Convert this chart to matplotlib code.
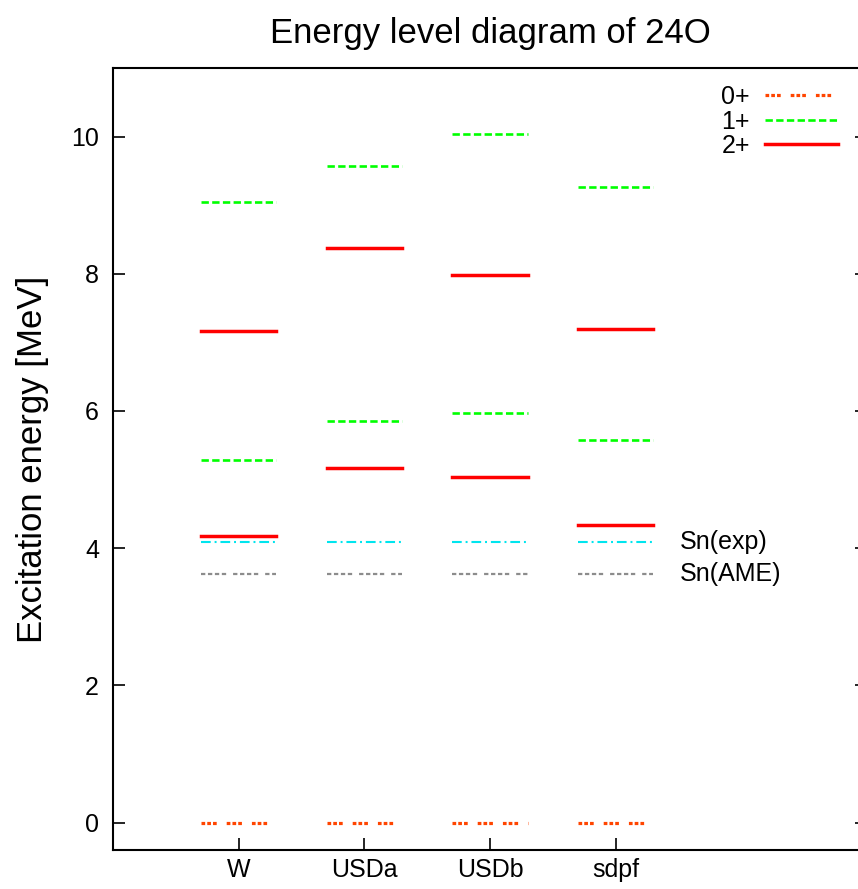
import numpy as np
import matplotlib
matplotlib.use('Agg')
import matplotlib.pyplot as plt

plt.rcParams['font.family'] = ['Liberation Sans', 'DejaVu Sans']
plt.rcParams['lines.scale_dashes'] = False

# data (MeV)
models = ['W', 'USDa', 'USDb', 'sdpf']
e_0plus = [0.0, 0.0, 0.0, 0.0]
e_1plus = [[5.29, 9.05], [5.86, 9.57], [5.97, 10.04], [5.58, 9.27]]
e_2plus = [[4.18, 7.17], [5.17, 8.37], [5.04, 7.98], [4.34, 7.20]]
sn_exp = 4.09
sn_ame = 3.62
sn_labels = ['Sn(exp)', 'Sn(AME)']

half = 0.3  # half width of a level bar

style_0 = dict(color='#ff4500', lw=2.3, ls=(0, (2.65, 1.5, 2.65, 1.5, 2.65, 7.2)))
style_1 = dict(color='#00ff00', lw=1.9, ls=(0, (5.3, 2.4)))
style_2 = dict(color='#ff0000', lw=2.5, ls='-')
style_exp = dict(color='#00e5ee', lw=1.5, ls=(0, (7.0, 2.8, 1.4, 2.8)))
style_ame = dict(color='#8c8c8c', lw=1.6, ls=(0, (3.1, 1.9, 3.1, 1.9, 3.1, 1.9, 3.1, 5.0)))

fig = plt.figure(figsize=(8.58, 8.89), dpi=100)
ax = fig.add_axes([113/858, 39/889, 754/858, 782/889])

for i, name in enumerate(models):
    x = i + 1
    xs = [x - half, x + half]
    ax.plot(xs, [e_0plus[i]]*2, label='0+' if i == 0 else None, **style_0)
    for k, e in enumerate(e_1plus[i]):
        ax.plot(xs, [e, e], label='1+' if (i == 0 and k == 0) else None, **style_1)
    for k, e in enumerate(e_2plus[i]):
        ax.plot(xs, [e, e], label='2+' if (i == 0 and k == 0) else None, **style_2)
    ax.plot(xs, [sn_exp]*2, **style_exp)
    ax.plot(xs, [sn_ame]*2, **style_ame)

ax.text(4.51, sn_exp, sn_labels[0], fontsize=18, va='center', ha='left')
ax.text(4.51, sn_ame, sn_labels[1], fontsize=18, va='center', ha='left')

ax.set_xlim(0, 6)
ax.set_ylim(-0.4, 11)
ax.set_xticks(range(1, len(models) + 1))
ax.set_xticklabels(models)
ax.set_yticks(np.arange(0, 11, 2))

ax.tick_params(axis='both', direction='in', length=8.6, width=1.2,
               labelsize=18, colors='black')
ax.tick_params(axis='y', right=True, pad=10)
ax.tick_params(axis='x', top=False, pad=6)
for sp in ax.spines.values():
    sp.set_linewidth(1.5)

ax.set_title('Energy level diagram of 24O', fontsize=25, pad=18)
ax.set_ylabel('Excitation energy [MeV]', fontsize=25, labelpad=16)

ax.legend(loc='upper right', bbox_to_anchor=(0.961, 0.978), frameon=False,
          markerfirst=False, fontsize=18, handlelength=2.9, handletextpad=0.6,
          labelspacing=0.02, borderpad=0, borderaxespad=0)

fig.savefig('out.png', dpi=100)
